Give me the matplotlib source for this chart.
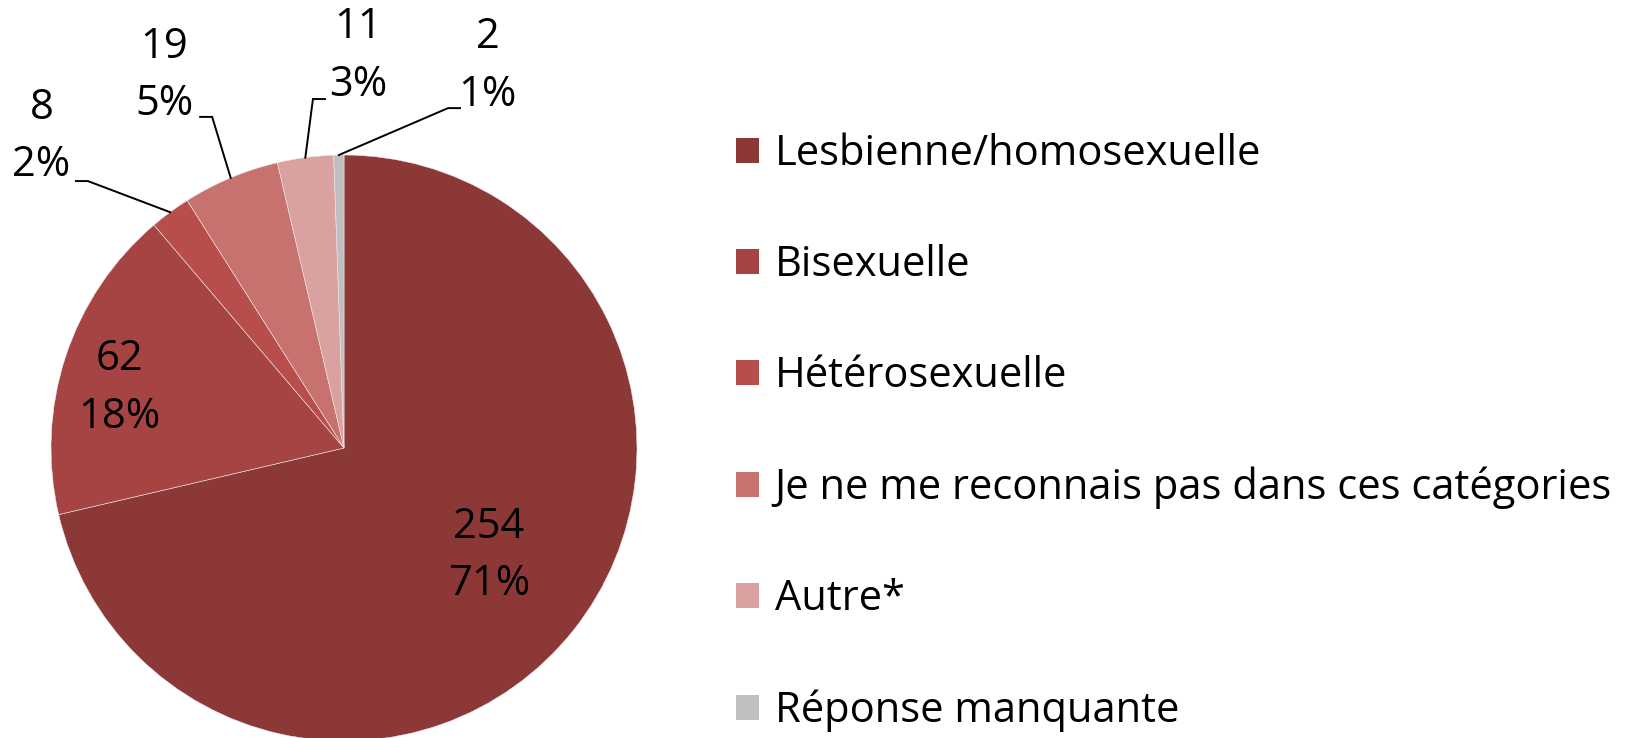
import matplotlib
matplotlib.use("Agg")
import matplotlib.pyplot as plt
import numpy as np
from matplotlib.patches import Patch

categories = ["Lesbienne/homosexuelle", "Bisexuelle", "Hétérosexuelle",
              "Je ne me reconnais pas dans ces catégories", "Autre*",
              "Réponse manquante"]
counts = [254, 62, 8, 19, 11, 2]
percent_labels = ["71%", "18%", "2%", "5%", "3%", "1%"]
colors = ["#8B3837", "#A54442", "#B84E4B", "#C87270", "#D9A1A0", "#BFBFBF"]

plt.rcParams['font.family'] = ['Open Sans', 'DejaVu Sans']

W, H = 1629, 738
fig = plt.figure(figsize=(W / 100, H / 100), dpi=100)

cx, cy, R = 344, 448, 293  # pixels from top-left
ax = fig.add_axes([(cx - R) / W, (H - cy - R) / H, 2 * R / W, 2 * R / H])
wedges, _ = ax.pie(counts, colors=colors, startangle=90, counterclock=False,
                   radius=1.0, wedgeprops=dict(linewidth=0.4, edgecolor="#F2E6E6"))
for w in wedges:
    w.set_clip_on(False)
ax.set_xlim(-1, 1)
ax.set_ylim(-1, 1)
ax.set_aspect("equal")
ax.axis("off")

fs = 30
# label placement (axes data units)
label_pos = [(0.495, -0.367), (-0.766, 0.205), (-1.032, 1.063), (-0.614, 1.271),
             (0.048, 1.338), (0.491, 1.304)]
outside = [False, False, True, True, True, True]
# leader start (near text) and horizontal tick length
lead_start = [None, None, (-0.915, 0.911), (-0.491, 1.130), (-0.065, 1.191), (0.396, 1.160)]
lead_len = [None, None, 0.041, 0.041, -0.041, -0.041]

for i, w in enumerate(wedges):
    txt = f"{counts[i]}\n{percent_labels[i]}"
    x, y = label_pos[i]
    ax.text(x, y, txt, ha="center", va="center", fontsize=fs, linespacing=1.48,
            color="black", clip_on=False)
    if outside[i]:
        ang = np.deg2rad((w.theta1 + w.theta2) / 2)
        px, py = np.cos(ang), np.sin(ang)
        sx, sy = lead_start[i]
        ax.plot([sx, sx + lead_len[i], px], [sy, sy, py], color="black", lw=1.4,
                clip_on=False, solid_joinstyle="miter")

# legend
handles = [Patch(facecolor=c, edgecolor="none") for c in colors]
leg = fig.legend(handles, categories, loc="upper left",
                 bbox_to_anchor=(736 / W, 1 - 133 / H), frameon=False,
                 fontsize=fs, handlelength=0.55, handleheight=0.55,
                 handletextpad=0.38, labelspacing=1.66, borderaxespad=0,
                 borderpad=0)

fig.savefig("out.png", dpi=100)
